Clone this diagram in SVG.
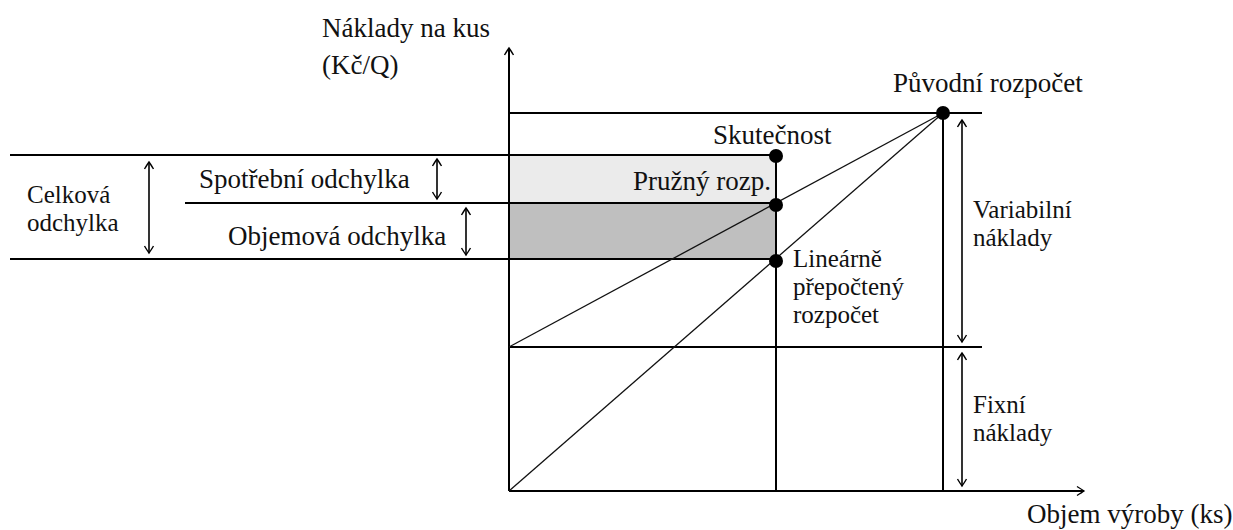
<svg xmlns="http://www.w3.org/2000/svg" width="1233" height="530" viewBox="0 0 1233 530">
<style>
text{font-family:"Liberation Serif","Times New Roman",serif;font-size:27px;fill:#111}
.ml text{font-size:25px}
.ln{stroke:#000;stroke-width:2;fill:none}
.dg{stroke:#111;stroke-width:1.3;fill:none}
.ar{stroke:#000;stroke-width:1.6;fill:none;marker-start:url(#ah);marker-end:url(#ah)}
.dot{fill:#000}
</style>
<defs>
<marker id="ah" viewBox="-10 -6 12 12" markerWidth="12" markerHeight="12" refX="0" refY="0" orient="auto-start-reverse" markerUnits="userSpaceOnUse">
<path d="M-7,-4.5 Q-2,-1.5 0,0 Q-2,1.5 -7,4.5" fill="none" stroke="#000" stroke-width="1.4"/>
</marker>
</defs>
<g id="areas">
<rect x="510" y="155" width="266" height="48" fill="#ebebeb"/>
<rect x="510" y="203" width="266" height="56" fill="#bfbfbf"/>
</g>
<g id="connectors">
<line class="ln" x1="509" y1="491" x2="509" y2="48" marker-end="url(#ah)"/>
<line class="ln" x1="509" y1="491" x2="1084" y2="491" marker-end="url(#ah)"/>
<line class="ln" x1="509" y1="113" x2="982" y2="113"/>
<line class="ln" x1="10" y1="155" x2="776" y2="155"/>
<line class="ln" x1="185" y1="203" x2="776" y2="203"/>
<line class="ln" x1="10" y1="259" x2="776" y2="259"/>
<line class="ln" x1="509" y1="347" x2="982" y2="347"/>
<line class="ln" x1="776" y1="156" x2="776" y2="491"/>
<line class="ln" x1="943" y1="113" x2="943" y2="491"/>
<line class="dg" x1="509" y1="347" x2="943" y2="113"/>
<line class="dg" x1="509" y1="491" x2="943" y2="113"/>
<line class="ar" x1="149" y1="162" x2="149" y2="253"/>
<line class="ar" x1="437" y1="159" x2="437" y2="199"/>
<line class="ar" x1="466" y1="208" x2="466" y2="255"/>
<line class="ar" x1="962" y1="120" x2="962" y2="342"/>
<line class="ar" x1="962" y1="353" x2="962" y2="486"/>
</g>
<g id="points">
<circle class="dot" cx="943" cy="113" r="7"/>
<circle class="dot" cx="776" cy="156" r="7"/>
<circle class="dot" cx="776" cy="205" r="7"/>
<circle class="dot" cx="776" cy="261" r="7"/>
</g>
<g id="label-y-axis"><text x="322" y="37">Náklady na kus</text><text x="322" y="74">(Kč/Q)</text></g>
<g id="label-puvodni"><text x="893" y="92">Původní rozpočet</text></g>
<g id="label-skutecnost"><text x="713" y="144">Skutečnost</text></g>
<g id="label-pruzny"><text x="633" y="190">Pružný rozp.</text></g>
<g id="label-linearne" class="ml"><text x="793" y="267">Lineárně</text><text x="793" y="295">přepočtený</text><text x="793" y="323">rozpočet</text></g>
<g id="label-variabilni" class="ml"><text x="973" y="218">Variabilní</text><text x="973" y="246">náklady</text></g>
<g id="label-fixni" class="ml"><text x="973" y="413">Fixní</text><text x="973" y="441">náklady</text></g>
<g id="label-x-axis"><text x="1027" y="523">Objem výroby (ks)</text></g>
<g id="label-celkova" class="ml"><text x="27" y="203">Celková</text><text x="27" y="231">odchylka</text></g>
<g id="label-spotrebni"><text x="199" y="188">Spotřební odchylka</text></g>
<g id="label-objemova"><text x="228" y="245">Objemová odchylka</text></g>
</svg>
